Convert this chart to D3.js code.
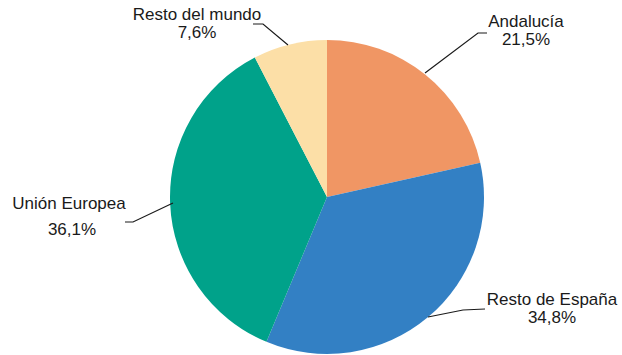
<!DOCTYPE html>
<html><head><meta charset="utf-8">
<script src="https://cdn.jsdelivr.net/npm/d3@7"></script>
<style>body{margin:0;background:#fff}svg text{font-family:"Liberation Sans",Arial,sans-serif;font-size:17px;fill:#1a1a1a}</style>
</head><body><svg id="c" width="622" height="355"></svg>
<script>
const categories = ["Andalucía", "Resto de España", "Unión Europea", "Resto del mundo"];
const values = [21.5, 34.8, 36.1, 7.6];
const valueLabels = ["21,5%", "34,8%", "36,1%", "7,6%"];
const colors = ["#F09664", "#3380C4", "#00A28A", "#FCDFA7"];

const svg = d3.select("#c");
const cx = 327, cy = 197, r = 157;
const pie = d3.pie().sort(null).value(d => d);
const arcs = pie(values);
const arc = d3.arc().innerRadius(0).outerRadius(r);
const g = svg.append("g").attr("transform", `translate(${cx},${cy})`);
g.selectAll("path").data(arcs).enter().append("path")
  .attr("d", arc).attr("fill", (d, i) => colors[i]);

const layout = [
  {line: [[425,73],[478,33],[487,33]], tx: 526, ty: 27},
  {line: [[428,317],[463,310],[485,309]], tx: 552, ty: 305},
  {line: [[173,203],[133,222],[125,222]], tx: 69, ty: 209, tx2: 72, ty2: 235},
  {line: [[288,45],[263,24],[253,24]], tx: 197, ty: 20}
];
const lineGen = d3.line();
layout.forEach((L, i) => {
  svg.append("path").attr("d", lineGen(L.line)).attr("fill", "none")
    .attr("stroke", "#1a1a1a").attr("stroke-width", 1.2);
  svg.append("text").attr("x", L.tx).attr("y", L.ty).attr("text-anchor", "middle").text(categories[i]);
  svg.append("text").attr("x", L.tx2 ?? L.tx).attr("y", L.ty2 ?? L.ty + 18).attr("text-anchor", "middle").text(valueLabels[i]);
});
</script></body></html>
